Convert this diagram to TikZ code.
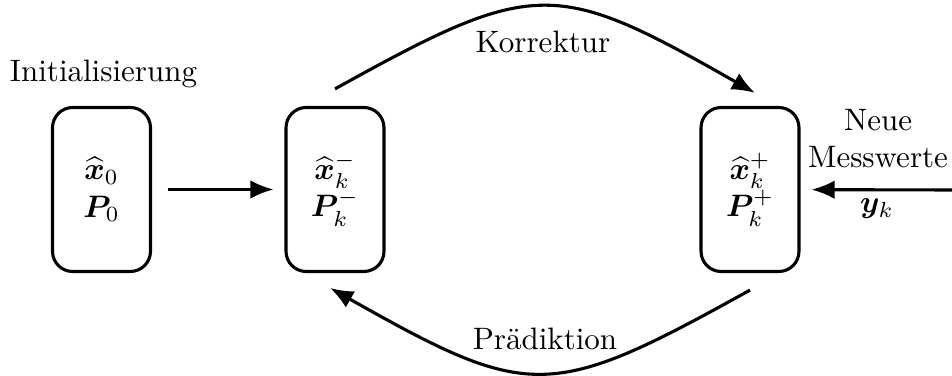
\documentclass[tikz,border=0pt]{standalone}
\usepackage{fontspec}
\usepackage{amsmath,bm}
\usetikzlibrary{arrows.meta}
\begin{document}
\begin{tikzpicture}[x=0.01134cm,y=-0.01134cm,
  state/.style={draw,line width=1pt,rounded corners=6.5pt,minimum width=31.6pt,minimum height=52.9pt,align=center,inner sep=0pt},
  arr/.style={line width=1pt,-{Latex[length=7.5pt,width=6pt]}},
  lbl/.style={inner sep=0pt,align=center}]
\useasboundingbox (0,0) rectangle (952,376);
\node[state] (b0) at (101.5,189.5) {$\widehat{\bm{x}}_0$\\$\bm{P}_0$};
\node[state] (b1) at (335,189.5) {$\widehat{\bm{x}}_k^-$\\$\bm{P}_k^-$};
\node[state] (b2) at (750,189.5) {$\widehat{\bm{x}}_k^+$\\$\bm{P}_k^+$};
\node[lbl,anchor=base] (init) at (103.5,82) {Initialisierung};
\node[lbl,anchor=base] (korr) at (543,53) {Korrektur};
\node[lbl,anchor=base] (praed) at (545,350) {Prädiktion};
\node[lbl] (neue) at (878,138.5) {Neue\\Messwerte};
\node[lbl,anchor=base] (yk) at (877,213) {$\bm{y}_k$};
\coordinate (mw) at (952,190);
\draw[arr,shorten <=5pt,shorten >=3.5pt] (b0) -- (b1);
\draw[arr,shorten >=3.5pt] (mw) -- (b2);
\draw[arr] ([yshift=5.5pt]b1.north) .. controls +(200,-111) and +(-200,-114) .. ([xshift=1.6pt,yshift=4.2pt]b2.north);
\draw[arr] ([yshift=-5.5pt]b2.south) .. controls +(-200,111) and +(200,113) .. ([xshift=-1.6pt,yshift=-4.8pt]b1.south);
\end{tikzpicture}
\end{document}
